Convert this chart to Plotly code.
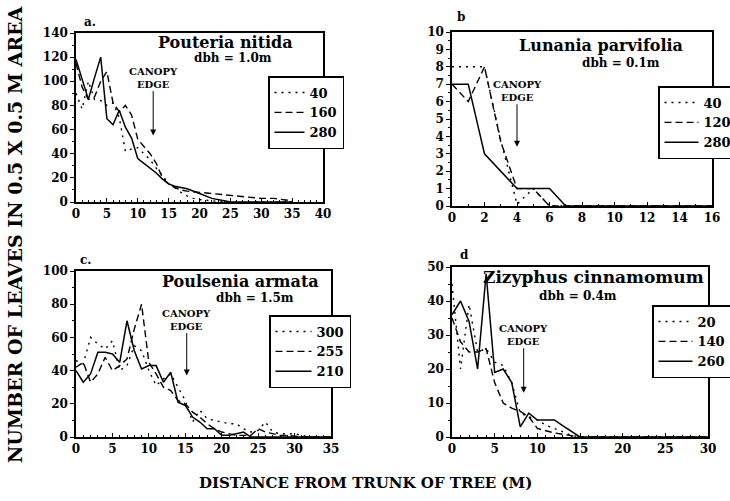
import plotly.graph_objects as go

# ---------------- data ----------------
# Panel a: Pouteria nitida
a_x40 = [0,1,2,3,4,5,6,7,8,9,10,11,12,13,14,15,16,17,18,19,20,22,24,26,30,35]
a_y40 = [90,77,100,85,84,80,82,70,42,44,45,40,35,28,22,15,12,8,5,3,2,1,0,0,0,0]
a_x160 = [0,1,2,3,4,5,6,7,8,9,10,11,12,13,14,15,16,17,18,20,22,24,26,28,30,32,34,35]
a_y160 = [115,95,85,87,100,108,82,75,80,72,52,46,40,32,20,15,12,10,9,8,7,6,5,4,3,3,2,1]
a_x280 = [0,1,2,3,4,5,6,7,8,9,10,11,12,13,14,15,16,18,20,22,24,25,30,35]
a_y280 = [118,102,85,103,120,69,64,76,62,53,36,32,28,24,19,15,13,11,7,3,1,0,0,0]

# Panel b: Lunania parvifolia
b_x = [0,1,2,3,4,5,6,7,8,10,12,14,16]
b_y40 = [8,8,8,3.8,0.1,1,0,0,0,0,0,0,0]
b_y120 = [7,6,8,3.7,1,1,0,0,0,0,0,0,0]
b_y280 = [7,7,3,2,1,1,1,0,0,0,0,0,0]

# Panel c: Poulsenia armata
c_x = list(range(0, 36))
c_y300 = [46,44,60,56,53,58,40,43,55,52,40,31,35,38,30,22,9,16,11,10,9,8,8,5,3,4,9,3,2,2,2,1,0,0,0,0]
c_y255 = [42,45,33,38,48,40,43,47,65,80,45,38,30,28,22,20,15,12,8,5,3,2,1,1,1,5,3,2,1,1,0.5,0,0,0,0,0]
c_y210 = [40,33,38,51,51,50,45,70,52,41,43,43,33,39,21,19,12,9,5,5,1,1,2,3,0,0,0,0,0,0,0,0,0,0,0,0]

# Panel d: Zizyphus cinnamomum
d_x = [0,1,2,3,4,5,6,7,8,9,10,11,12,13,14,15,20,25,30]
d_y20 = [45,20,39,25,26,22,21,16,7,6,5,3.5,2.5,1.5,0.5,0,0,0,0]
d_y140 = [35,28,25,25,26,16,10,8.5,7.5,6,2.5,1.8,1.2,0.8,0.4,0,0,0,0]
d_y260 = [36,40,34,20,48,19,20,16,3,7,5,5,5,3.3,1.7,0,0,0,0]

panels = [
    dict(ax="x", ay="y", leg="legend",
         series=[("40", a_x40, a_y40, "dot"), ("160", a_x160, a_y160, "dash"), ("280", a_x280, a_y280, "solid")]),
    dict(ax="x2", ay="y2", leg="legend2",
         series=[("40", b_x, b_y40, "dot"), ("120", b_x, b_y120, "dash"), ("280", b_x, b_y280, "solid")]),
    dict(ax="x3", ay="y3", leg="legend3",
         series=[("300", c_x, c_y300, "dot"), ("255", c_x, c_y255, "dash"), ("210", c_x, c_y210, "solid")]),
    dict(ax="x4", ay="y4", leg="legend4",
         series=[("20", d_x, d_y20, "dot"), ("140", d_x, d_y140, "dash"), ("260", d_x, d_y260, "solid")]),
]

DASH = {"dot": "2px,5px", "dash": "7px,4px", "solid": "solid"}
FONT = "DejaVu Serif"
W, H = 730, 501

fig = go.Figure()
for p in panels:
    for name, xs, ys, style in p["series"]:
        fig.add_trace(go.Scatter(
            x=xs, y=ys, mode="lines", name=name,
            line=dict(color="black", width=1.4 if style != "solid" else 1.5, dash=DASH[style]),
            xaxis=p["ax"], yaxis=p["ay"], legend=p["leg"], showlegend=True,
        ))

def px_dom_x(a, b):
    return [a / W, b / W]

def px_dom_y(top, bottom):
    return [1 - bottom / H, 1 - top / H]

tickfont = dict(family=FONT, size=12, color="black", weight="bold")

def xaxis(dom, rng, dtick, anchor, minor):
    return dict(domain=dom, range=rng, dtick=dtick, tick0=0, anchor=anchor,
                showline=True, linecolor="black", linewidth=1.5, mirror=True,
                ticks="inside", ticklen=4, tickcolor="black", tickwidth=1,
                minor=dict(dtick=minor, ticks="inside", ticklen=2, tickcolor="black"),
                showgrid=False, zeroline=False, tickfont=tickfont)

def yaxis(dom, rng, dtick, anchor, minor):
    return dict(domain=dom, range=rng, dtick=dtick, tick0=0, anchor=anchor,
                showline=True, linecolor="black", linewidth=1.5, mirror=True,
                ticks="outside", ticklen=4, tickcolor="black", tickwidth=1,
                minor=dict(dtick=minor, ticks="outside", ticklen=2, tickcolor="black"),
                showgrid=False, zeroline=False, tickfont=tickfont)

legfont = dict(family=FONT, size=13, color="black", weight="bold")

def legend(xpx, ypx, iw=30):
    return dict(x=xpx / W, y=1 - ypx / H, xanchor="left", yanchor="top",
                bordercolor="black", borderwidth=1.5, bgcolor="white",
                font=legfont, tracegroupgap=0, itemwidth=iw)

fig.update_layout(
    width=W, height=H,
    margin=dict(l=0, r=0, t=0, b=0, autoexpand=False),
    paper_bgcolor="white", plot_bgcolor="white",
    xaxis=xaxis(px_dom_x(76, 323), [0, 40], 5, "y", 1),
    yaxis=yaxis(px_dom_y(33, 202), [0, 140], 20, "x", 10),
    xaxis2=xaxis(px_dom_x(452, 712), [0, 16], 2, "y2", 1),
    yaxis2=yaxis(px_dom_y(32, 206), [0, 10], 1, "x2", 0.5),
    xaxis3=xaxis(px_dom_x(76, 331), [0, 35], 5, "y3", 1),
    yaxis3=yaxis(px_dom_y(271, 437), [0, 100], 20, "x3", 10),
    xaxis4=xaxis(px_dom_x(452, 708), [0, 30], 5, "y4", 1),
    yaxis4=yaxis(px_dom_y(267, 437), [0, 50], 10, "x4", 5),
    legend=legend(268, 76),
    legend2=legend(658, 86, 34),
    legend3=legend(269, 315, 36),
    legend4=legend(652, 305, 34),
    showlegend=True,
)

def ptext(text, xpx, ypx, size, anchor="center"):
    fig.add_annotation(text=text, x=xpx / W, y=1 - ypx / H, xref="paper", yref="paper",
                       showarrow=False, xanchor=anchor, yanchor="middle",
                       font=dict(family=FONT, size=size, color="black", weight="bold"))

# panel letters
ptext("a.", 82, 22, 12, "left")
ptext("b", 455, 17, 12, "left")
ptext("c.", 78, 260, 12, "left")
ptext("d", 458, 255, 12, "left")

# species titles
ptext("Pouteria nitida", 225, 42, 16)
ptext("dbh = 1.0m", 233, 58, 12)
ptext("Lunania parvifolia", 601, 45, 16)
ptext("dbh = 0.1m", 621, 63, 12)
ptext("Poulsenia armata", 240, 281, 16)
ptext("dbh = 1.5m", 255, 298, 12)
ptext("Zizyphus cinnamomum", 593, 277, 17)
ptext("dbh = 0.4m", 578, 296, 12)

# canopy edge arrows
canopy = [("x", "y", 12.5, 55, -58), ("x2", "y2", 4.0, 3.4, -56),
          ("x3", "y3", 15.2, 37, -56), ("x4", "y4", 8.4, 13, -58)]
for xr, yr, xv, yv, ay in canopy:
    fig.add_annotation(text="CANOPY<br>EDGE", x=xv, y=yv, xref=xr, yref=yr,
                       showarrow=True, ax=0, ay=ay, arrowhead=2, arrowsize=1.2,
                       arrowwidth=1, arrowcolor="black",
                       font=dict(family=FONT, size=10, color="black", weight="bold"))

# axis titles
fig.add_annotation(text="NUMBER OF LEAVES IN 0.5 X 0.5 M AREA", x=15 / W, y=1 - 235 / H,
                   xref="paper", yref="paper", showarrow=False, textangle=-90,
                   xanchor="center", yanchor="middle",
                   font=dict(family=FONT, size=19, color="black", weight="bold"))
fig.add_annotation(text="DISTANCE FROM TRUNK OF TREE (M)", x=365 / W, y=1 - 483 / H,
                   xref="paper", yref="paper", showarrow=False,
                   xanchor="center", yanchor="middle",
                   font=dict(family=FONT, size=15, color="black", weight="bold"))

fig.write_html("out.html")
